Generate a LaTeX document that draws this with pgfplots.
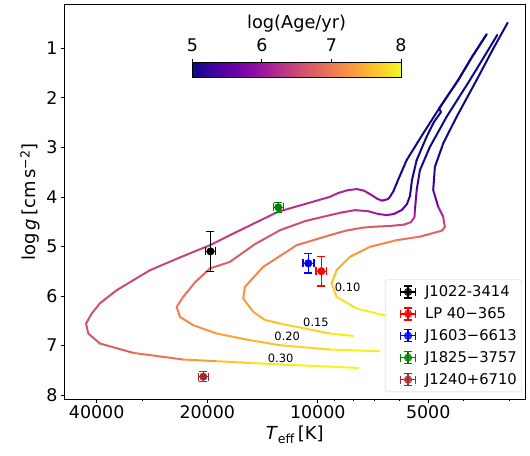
\documentclass[border=0pt]{standalone}
\usepackage{fontspec}
\setmainfont{DejaVu Sans}
\usepackage{pgfplots}
\usepackage{pgfplotstable}
\pgfplotsset{compat=1.18}
\usetikzlibrary{calc}

\definecolor{mplgreen}{HTML}{008000}
\definecolor{mplbrown}{HTML}{A52A2A}

\pgfplotsset{
  /pgf/number format/assume math mode=true,
  colormap={plasma}{rgb255=(13,8,135) rgb255=(65,4,157) rgb255=(106,0,168)
    rgb255=(143,13,164) rgb255=(177,42,144) rgb255=(204,71,120) rgb255=(225,100,98)
    rgb255=(242,132,75) rgb255=(252,166,54) rgb255=(252,206,37) rgb255=(240,249,33)},
  track/.style={mesh, point meta=explicit, line width=2bp, line cap=round,
    line join=round, forget plot},
  obs/.style={only marks, mark=*, mark size=3.8bp,
    error bars/x dir=both, error bars/x explicit,
    error bars/y dir=both, error bars/y explicit,
    error bars/error bar style={line width=1.4bp, solid},
    error bars/error mark options={rotate=90, line width=1.4bp, mark size=4bp}},
}

% evolutionary tracks: Teff [K], log g, log(age/yr)
\pgfplotstableread{
T g age
3467 0.717 5.00
3802 1.176 5.00
4143 1.640 5.00
4668 2.212 5.00
5160 2.717 5.00
5726 3.257 5.00
5916 3.499 5.02
6097 3.727 5.05
6220 3.883 5.15
6357 3.998 5.40
6438 4.044 5.60
6686 4.075 5.85
6897 4.034 5.95
7163 3.954 6.00
7484 3.873 6.05
7820 3.842 6.10
8275 3.863 6.12
8810 3.923 6.18
9262 3.998 6.22
12835 4.301 6.30
17344 4.772 6.40
19660 4.974 6.45
23730 5.222 6.47
28630 5.479 6.50
31800 5.681 6.52
35280 5.883 6.55
39180 6.145 6.58
41270 6.354 6.60
42770 6.556 6.62
42170 6.758 6.65
39180 6.960 6.70
31800 7.149 6.80
23250 7.283 7.10
18850 7.317 7.50
15300 7.352 7.80
11410 7.398 7.95
7758 7.453 8.00
}\trackthirty

\pgfplotstableread{
T g age
3467 0.717 5.00
3802 1.176 5.00
4143 1.640 5.00
4668 2.212 5.00
4617 2.287 5.00
4826 2.489 5.00
5052 2.786 5.00
5377 3.257 5.00
5538 3.661 5.02
5609 3.984 5.10
5715 4.145 5.30
5909 4.267 5.60
6201 4.343 5.85
6491 4.368 5.95
6855 4.343 6.05
7300 4.287 6.15
7919 4.267 6.25
8594 4.313 6.35
9262 4.368 6.45
10835 4.489 6.55
12670 4.671 6.62
14830 4.954 6.70
17344 5.311 6.75
19660 5.444 6.80
21600 5.725 6.90
23250 6.018 6.95
24230 6.220 7.00
23730 6.422 7.05
21830 6.590 7.15
18850 6.758 7.30
15300 6.893 7.50
12670 6.994 7.65
9262 7.081 7.85
6813 7.115 8.00
}\tracktwenty

\pgfplotstableread{
T g age
3244 0.731 5.00
3526 1.176 5.00
3851 1.640 5.00
4456 2.382 5.00
4947 2.988 5.00
5268 3.459 5.05
5377 3.863 5.40
5436 4.267 5.90
5452 4.408 6.20
5574 4.509 6.40
5824 4.560 6.50
6357 4.586 6.60
6986 4.600 6.68
7533 4.620 6.75
8381 4.681 6.82
9262 4.772 6.90
11410 4.974 7.00
14080 5.412 7.10
15790 5.816 7.20
15960 6.051 7.30
14980 6.321 7.40
13930 6.483 7.50
12670 6.556 7.60
9262 6.758 7.85
8020 6.806 8.00
}\trackfifteen

\pgfplotstableread{
T g age
3039 0.483 5.00
3354 1.055 5.00
3692 1.640 5.00
4185 2.382 5.00
4551 2.919 5.00
4796 3.392 5.05
4847 3.863 5.30
4697 4.200 5.90
4551 4.402 6.30
4532 4.509 6.48
4504 4.604 6.60
4589 4.681 6.70
5268 4.802 6.88
6097 4.873 7.05
7208 5.008 7.20
8173 5.210 7.38
8882 5.479 7.55
9166 5.747 7.65
8882 6.018 7.75
7834 6.253 7.90
6491 6.402 8.00
}\trackten

\begin{document}
\begin{tikzpicture}
\begin{axis}[
  name=main,
  scale only axis, width=460.5bp, height=394.5bp,
  xmode=log, x dir=reverse, y dir=reverse,
  xmin=2726, xmax=48960, ymin=0.115, ymax=8.08,
  xtick={5000,10000,20000,40000}, xticklabels={5000,10000,20000,40000},
  minor xtick={3000,4000,6000,7000,8000,9000,30000},
  ytick={1,2,3,4,5,6,7,8}, minor y tick num=0,
  tick align=outside, tick pos=left,
  major tick length=3.5bp, minor tick length=2bp,
  every tick/.style={black, line width=0.8bp},
  axis line style={line width=0.9bp},
  tick label style={font=\fontsize{17.5}{20}\selectfont},
  label style={font=\fontsize{18}{21}\selectfont},
  xlabel={\textit{T}\textsubscript{eff}\,[K]},
  ylabel={log\,\textit{g}\,[cm\,s\textsuperscript{−2}]},
  point meta min=5, point meta max=8,
  colorbar horizontal,
  colorbar style={
    at={($(parent axis.north west)+(127.8bp,-49.5bp)$)},
    anchor=north west,
    scale only axis, width=208.7bp, height=15bp,
    xtick={5,6,7,8},
    xtick pos=right, xticklabel pos=right,
    xtick align=outside, major tick length=3.5bp,
    xticklabel style={font=\fontsize{17.5}{20}\selectfont, yshift=3.5bp},
    xlabel={log(Age/yr)},
    xlabel style={font=\fontsize{17.8}{20}\selectfont, inner sep=1bp, yshift=2bp},
    axis line style={line width=0.8bp},
  },
  legend style={
    at={(0.9935,0.0177)}, anchor=south east,
    font=\fontsize{14.8}{17}\selectfont,
    draw=black!20, fill=white, fill opacity=0.8, text opacity=1,
    rounded corners=2.5bp, row sep=5.5bp, inner ysep=4bp,
  },
  legend cell align=left,
  legend image code/.code={
    \path[draw=none, fill=none] (-20bp,0bp) -- (15bp,0bp);
    \draw[#1, line width=1.4bp, solid] (-7.5bp,0bp) -- (7.5bp,0bp)
      (-7.5bp,-4bp) -- (-7.5bp,4bp) (7.5bp,-4bp) -- (7.5bp,4bp)
      (0bp,-6bp) -- (0bp,6bp) (-4bp,-6bp) -- (4bp,-6bp) (-4bp,6bp) -- (4bp,6bp);
    \draw[#1] plot coordinates {(0bp,0bp)};
  },
]
\addplot[track] table[x=T, y=g, meta=age] {\trackthirty};
\addplot[track] table[x=T, y=g, meta=age] {\tracktwenty};
\addplot[track] table[x=T, y=g, meta=age] {\trackfifteen};
\addplot[track] table[x=T, y=g, meta=age] {\trackten};

\node[font=\fontsize{11.5}{13}\selectfont] at (8290,5.828) {0.10};
\node[font=\fontsize{11.5}{13}\selectfont] at (10110,6.523) {0.15};
\node[font=\fontsize{11.5}{13}\selectfont] at (12110,6.812) {0.20};
\node[font=\fontsize{11.5}{13}\selectfont] at (12620,7.250) {0.30};

\addplot[obs, color=black, mark options={fill=black, draw=black}]
  coordinates {(19600,5.10) +- (630,0.40)};
\addlegendentry{J1022-3414}
\addplot[obs, color=red, mark options={fill=red, draw=red}]
  coordinates {(9780,5.50) +- (330,0.30)};
\addlegendentry{LP 40−365}
\addplot[obs, color=blue, mark options={fill=blue, draw=blue}]
  coordinates {(10610,5.34) +- (370,0.20)};
\addlegendentry{J1603−6613}
\addplot[obs, color=mplgreen, mark options={fill=mplgreen, draw=mplgreen}]
  coordinates {(12810,4.21) +- (400,0.10)};
\addlegendentry{J1825−3757}
\addplot[obs, color=mplbrown, mark options={fill=mplbrown, draw=mplbrown}]
  coordinates {(20500,7.63) +- (650,0.10)};
\addlegendentry{J1240+6710}
\end{axis}
\pgfresetboundingbox
\path[use as bounding box] ($(main.south west)+(-64.5bp,-57bp)$) rectangle ($(main.north east)+(5bp,4.5bp)$);
\end{tikzpicture}
\end{document}
